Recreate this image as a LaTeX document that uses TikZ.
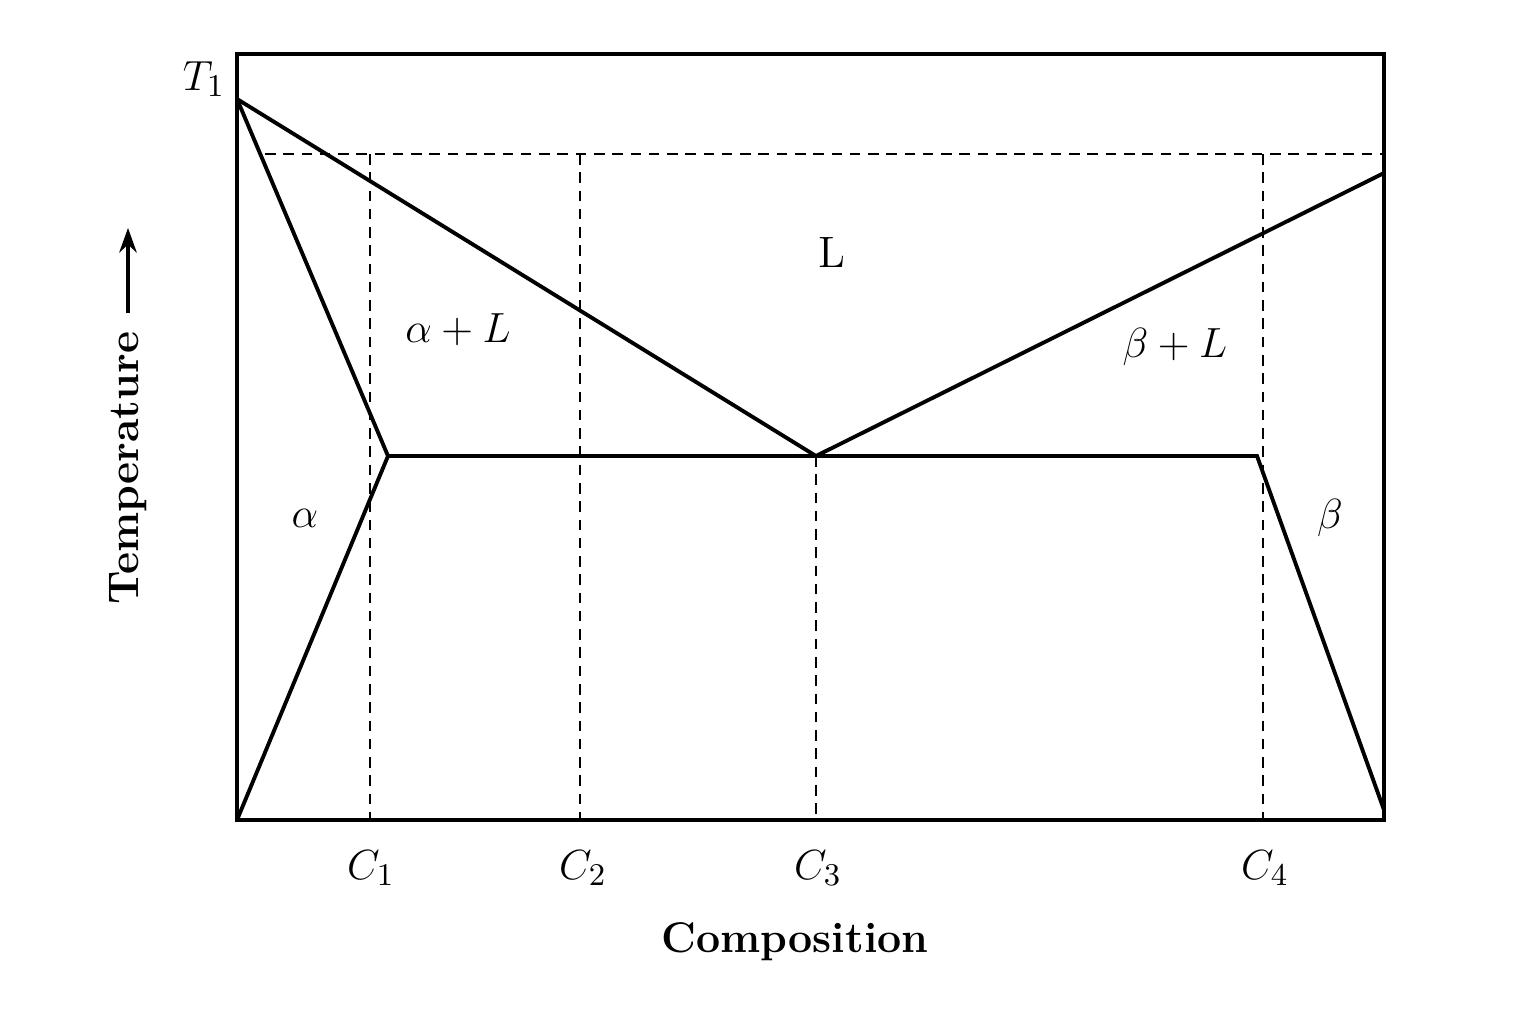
\documentclass[tikz,border=0pt]{standalone}
\usepackage{tikz}
\usetikzlibrary{arrows.meta}

\tikzset{
	phase/.style = {line width=1.1pt, line join=miter},
	guide/.style = {line width=0.6pt, dash pattern=on 3pt off 2.2pt},
	lbl/.style = {font=\fontsize{12.5}{15}\selectfont},
	axlbl/.style = {font=\fontsize{12.2}{15}\selectfont\bfseries}
}

\begin{document}
\begin{tikzpicture}
		\useasboundingbox (0,0) rectangle (15.36,10.24);
		% frame and phase points
		\coordinate (BL) at (2.37,2.04);
		\coordinate (BR) at (13.84,2.04);
		\coordinate (TR) at (13.84,9.70);
		\coordinate (TL) at (2.37,9.70);
		\coordinate (T1) at (2.37,9.25);
		\coordinate (eA) at (3.88,5.68);
		\coordinate (eut) at (8.16,5.68);
		\coordinate (eB) at (12.57,5.68);
		\coordinate (liqR) at (13.84,8.51);
		\coordinate (solB) at (13.84,2.14);
		% dashed guides
		\coordinate (hL) at (2.65,8.70);
		\coordinate (hR) at (13.84,8.70);
		\coordinate (c1t) at (3.70,8.70);  \coordinate (c1b) at (3.70,2.04);
		\coordinate (c2t) at (5.80,8.70);  \coordinate (c2b) at (5.80,2.04);
		\coordinate (c3b) at (8.16,2.04);
		\coordinate (c4t) at (12.63,8.70); \coordinate (c4b) at (12.63,2.04);

	    \draw[guide] (hL) -- (hR);
	    \draw[guide] (c1t) -- (c1b);
	    \draw[guide] (c2t) -- (c2b);
	    \draw[guide] (eut) -- (c3b);
	    \draw[guide] (c4t) -- (c4b);

	    \draw[phase] (BL) -- (BR) -- (TR) -- (TL) -- cycle;
	    \draw[phase] (T1) -- (eut) -- (liqR);
	    \draw[phase] (T1) -- (eA) -- (BL);
	    \draw[phase] (eA) -- (eB) -- (solB);

		% labels
		\node[lbl] (t1) at (2.04,9.45) {$T_1$};
		\node[lbl] (c1) at (3.71,1.56) {$C_1$};
		\node[lbl] (c2) at (5.83,1.56) {$C_2$};
		\node[lbl] (c3) at (8.18,1.56) {$C_3$};
		\node[lbl] (c4) at (12.65,1.56) {$C_4$};
		\node[lbl] (liq) at (8.32,7.72) {L};
		\node[lbl] (aL) at (4.58,6.94) {$\alpha + L$};
		\node[lbl] (bL) at (11.75,6.77) {$\beta + L$};
		\node[lbl] (al) at (3.05,5.06) {$\alpha$};
		\node[lbl] (be) at (13.30,5.06) {$\beta$};
		\node[axlbl] (comp) at (7.95,0.82) {Composition};
		\node[axlbl, rotate=90] (temp) at (1.28,5.56) {Temperature};
		\coordinate (up0) at (1.28,7.11);
		\coordinate (up1) at (1.28,7.96);
	    \draw[line width=0.9pt, -{Stealth[length=7pt,width=5pt]}] (up0) -- (up1);
	\end{tikzpicture}
\end{document}
